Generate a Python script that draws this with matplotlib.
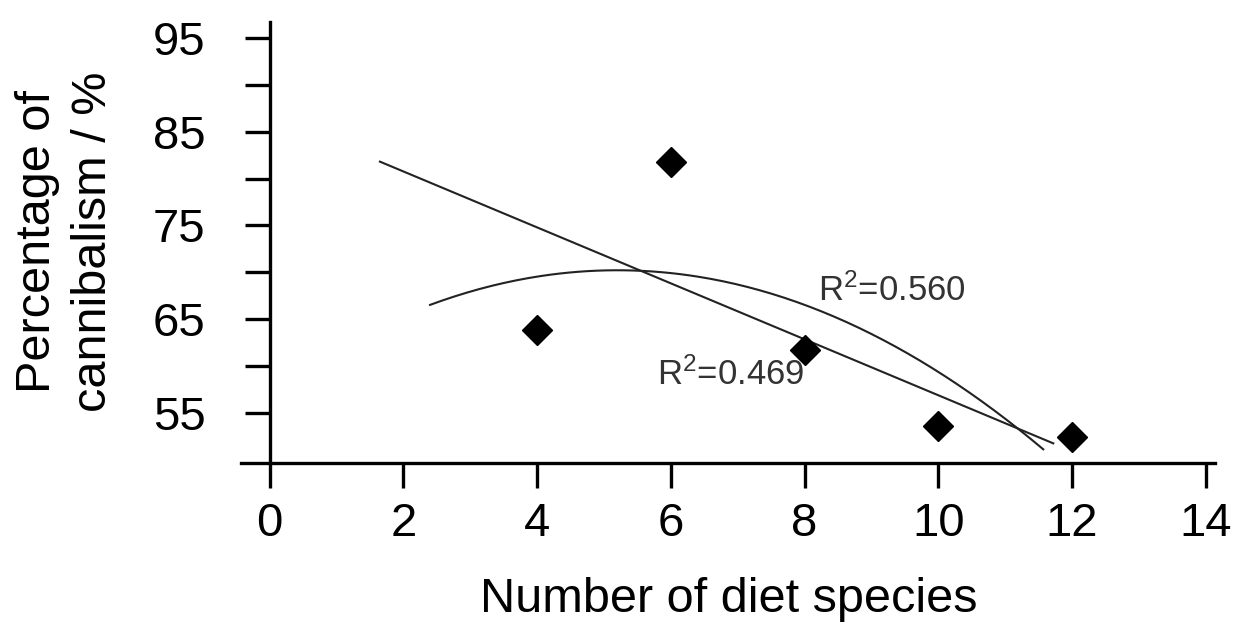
import numpy as np
import matplotlib
matplotlib.use("Agg")
import matplotlib.pyplot as plt

# observed points
diet_species = [4, 6, 8, 10, 12]
cannibalism = [63.9, 81.8, 61.7, 53.6, 52.5]

# linear trend line, end points
linear_x = [1.65, 11.72]
linear_y = [81.8, 51.8]

# quadratic trend curve
curve_x = [2.40, 3.25, 4.24, 5.24, 6.29, 7.03, 7.78, 8.53, 9.18, 9.83, 10.82, 11.57]
curve_y = [66.8, 68.4, 69.6, 70.0, 69.6, 68.7, 67.2, 65.1, 62.8, 60.4, 55.6, 50.8]

x_ticks = [0, 2, 4, 6, 8, 10, 12, 14]
y_ticks = [55, 65, 75, 85, 95]
y_minor = [60, 70, 80, 90]

plt.rcParams['font.family'] = ['Liberation Sans', 'DejaVu Sans']
plt.rcParams['mathtext.fontset'] = 'custom'
plt.rcParams['mathtext.rm'] = 'Liberation Sans'
plt.rcParams['mathtext.it'] = 'Liberation Sans'

fig = plt.figure(figsize=(12.34, 6.28), dpi=100)
ax = fig.add_axes([0.1957, 0.2623, 0.789, 0.7027])

ax.plot(linear_x, linear_y, color='#222222', lw=1.5)

# smooth the read curve points with a 2nd order fit, like the original trend curve
coef = np.polyfit(curve_x, curve_y, 2)
xs = np.linspace(curve_x[0], curve_x[-1], 200)
ax.plot(xs, np.polyval(coef, xs), color='#222222', lw=1.5)

ax.plot(diet_species, cannibalism, 'D', color='black', markersize=15, linestyle='none')

ax.text(8.20, 68.1, r'R$\mathregular{^2}$=0.560', fontsize=25, color='#333333', ha='left', va='center')
ax.text(5.79, 59.1, r'R$\mathregular{^2}$=0.469', fontsize=25, color='#333333', ha='left', va='center')

ax.set_xlim(-0.42, 14.14)
ax.set_ylim(49.68, 96.67)
ax.set_xticks(x_ticks)
ax.set_yticks(y_ticks)
ax.set_yticks(y_minor, minor=True)

for s in ['top', 'right']:
    ax.spines[s].set_visible(False)
ax.spines['left'].set_position(('data', 0))
ax.spines['left'].set_linewidth(2.4)
ax.spines['bottom'].set_linewidth(2.4)

ax.tick_params(axis='both', which='both', direction='out', length=18, width=2.4, labelsize=34)
ax.tick_params(axis='y', which='major', pad=28)
ax.tick_params(axis='y', which='minor', labelleft=False)
ax.tick_params(axis='x', pad=10)

ax.set_xlabel('Number of diet species', fontsize=35, labelpad=22)
fig.text(0.053, 0.615, 'Percentage of\ncannibalism / %', rotation=90, fontsize=35,
         ha='center', va='center', linespacing=1.32)

fig.savefig('out.png', dpi=100)
